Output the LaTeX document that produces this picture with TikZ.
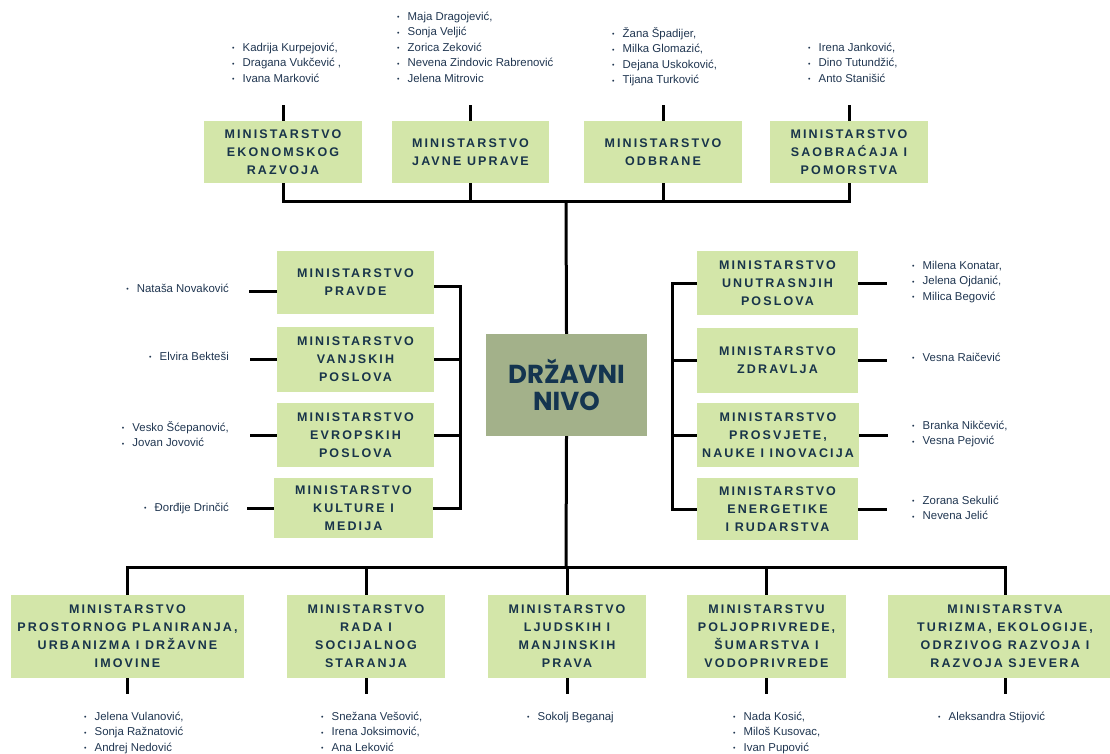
\documentclass[tikz,border=0pt]{standalone}
\usepackage{fontspec}
\setmainfont{Liberation Sans}
\newfontfamily\boxfont[LetterSpace=17]{Liberation Sans}
\newfontfamily\nivofont{Poppins}
\definecolor{boxgreen}{HTML}{D3E6A9}
\definecolor{nivogreen}{HTML}{A3B18A}
\definecolor{navy}{HTML}{18344A}
\definecolor{nivotext}{HTML}{143550}
\definecolor{namecol}{HTML}{1F3550}
\newcommand\osoba[1]{\rule{0pt}{9pt}\makebox[10.5pt][l]{\fontsize{7}{7}\selectfont\raisebox{0.5pt}{•}}#1}
\tikzset{
  ministry/.style={fill=boxgreen, text=navy, font=\boxfont\bfseries\fontsize{12.5}{18}\selectfont, align=center, inner sep=0pt},
  people/.style={text=namecol, font=\fontsize{11.4}{15.5}\selectfont, align=left, inner sep=0pt},
  veza/.style={line width=3pt}
}
\begin{document}
\begin{tikzpicture}[x=1pt,y=-1pt]
    \useasboundingbox (0,0) rectangle (1110,754);
    % centre
    \node[fill=nivogreen, minimum width=161pt, minimum height=102pt, inner sep=0pt, text=nivotext, font=\nivofont\bfseries\fontsize{26}{27}\selectfont, align=center](nivo) at (566.5,385){DRŽAVNI\\NIVO};
    \coordinate(gore) at (566,201);
    \coordinate(dole) at (566,567);
    % top row
    \node[ministry, minimum width=158pt, minimum height=62pt](ekon) at (283,152){MINISTARSTVO\\EKONOMSKOG\\RAZVOJA};
    \node[ministry, minimum width=157pt, minimum height=62pt](javna) at (470.5,152){MINISTARSTVO\\JAVNE UPRAVE};
    \node[ministry, minimum width=158pt, minimum height=62pt](odbr) at (663,152){MINISTARSTVO\\ODBRANE};
    \node[ministry, minimum width=158pt, minimum height=62pt](saob) at (849,152){MINISTARSTVO\\SAOBRAĆAJA I\\POMORSTVA};
    \draw[veza](ekon.south)|-(gore)-|(saob.south);
    \draw[veza](javna.south)--(javna.south|-gore);
    \draw[veza](odbr.south)--(odbr.south|-gore);
    \draw[veza](gore)--(nivo.north);
    \foreach \m in {ekon,javna,odbr,saob}
        \draw[veza](\m.north)--++(0,-16);
    \node[people, anchor=north west](lEkon) at (232,42){\osoba{Kadrija Kurpejović,}\\\osoba{Dragana Vukčević ,}\\\osoba{Ivana Marković}};
    \node[people, anchor=north west](lJavna) at (397,11){\osoba{Maja Dragojević,}\\\osoba{Sonja Veljić}\\\osoba{Zorica Zeković}\\\osoba{Nevena Zindovic Rabrenović}\\\osoba{Jelena Mitrovic}};
    \node[people, anchor=north west](lOdbr) at (612,27){\osoba{Žana Špadijer,}\\\osoba{Milka Glomazić,}\\\osoba{Dejana Uskoković,}\\\osoba{Tijana Turković}};
    \node[people, anchor=north west](lSaob) at (808,42){\osoba{Irena Janković,}\\\osoba{Dino Tutundžić,}\\\osoba{Anto Stanišić}};
    % left column
    \node[ministry, minimum width=157pt, minimum height=63pt](pravde) at (355.5,282.5){MINISTARSTVO\\PRAVDE};
    \node[ministry, minimum width=157pt, minimum height=65pt](vanj) at (355.5,359.5){MINISTARSTVO\\VANJSKIH\\POSLOVA};
    \node[ministry, minimum width=157pt, minimum height=64pt](evro) at (355.5,435){MINISTARSTVO\\EVROPSKIH\\POSLOVA};
    \node[ministry, minimum width=159pt, minimum height=60pt](kult) at (353.5,508){MINISTARSTVO\\KULTURE I\\MEDIJA};
    \draw[veza]([yshift=-4pt]pravde.east)-|(460,0|-kult.east)--(kult.east);
    \draw[veza](vanj.east)--++(26,0);
    \draw[veza](evro.east)--++(26,0);
    \draw[veza]([yshift=-9pt]pravde.west)--++(-28,0);
    \foreach \m in {vanj,evro,kult}
        \draw[veza](\m.west)--++(-27,0);
    \node[people, anchor=north east](lPravde) at (229,283){\osoba{Nataša Novaković}};
    \node[people, anchor=north east](lVanj) at (229,351){\osoba{Elvira Bekteši}};
    \node[people, anchor=north east](lEvro) at (229,421){\osoba{Vesko Šćepanović,}\\\osoba{Jovan Jovović}};
    \node[people, anchor=north east](lKult) at (229,502){\osoba{Đorđije Drinčić}};
    % right column
    \node[ministry, minimum width=161pt, minimum height=64pt](unut) at (777.5,283){MINISTARSTVO\\UNUTRASNJIH\\POSLOVA};
    \node[ministry, minimum width=161pt, minimum height=65pt](zdr) at (777.5,360.5){MINISTARSTVO\\ZDRAVLJA};
    \node[ministry, minimum width=162pt, minimum height=64pt](prosv) at (778,435){MINISTARSTVO\\PROSVJETE,\\NAUKE I INOVACIJA};
    \node[ministry, minimum width=161pt, minimum height=62pt](energ) at (777.5,509){MINISTARSTVO\\ENERGETIKE\\I RUDARSTVA};
    \draw[veza](unut.west)-|(672,0|-energ.west)--(energ.west);
    \draw[veza](zdr.west)--++(-25,0);
    \draw[veza](prosv.west)--++(-25,0);
    \foreach \m in {unut,zdr,prosv,energ}
        \draw[veza](\m.east)--++(29,0);
    \node[people, anchor=north west](lUnut) at (912,260){\osoba{Milena Konatar,}\\\osoba{Jelena Ojdanić,}\\\osoba{Milica Begović}};
    \node[people, anchor=north west](lZdr) at (912,352){\osoba{Vesna Raičević}};
    \node[people, anchor=north west](lProsv) at (912,420){\osoba{Branka Nikčević,}\\\osoba{Vesna Pejović}};
    \node[people, anchor=north west](lEnerg) at (912,495){\osoba{Zorana Sekulić}\\\osoba{Nevena Jelić}};
    % bottom row
    \node[ministry, minimum width=233pt, minimum height=83pt](prost) at (127.5,636.5){MINISTARSTVO\\PROSTORNOG PLANIRANJA,\\URBANIZMA I DRŽAVNE\\IMOVINE};
    \node[ministry, minimum width=158pt, minimum height=83pt](rada) at (366,636.5){MINISTARSTVO\\RADA I\\SOCIJALNOG\\STARANJA};
    \node[ministry, minimum width=158pt, minimum height=83pt](ljud) at (567,636.5){MINISTARSTVO\\LJUDSKIH I\\MANJINSKIH\\PRAVA};
    \node[ministry, minimum width=159pt, minimum height=83pt](polj) at (766.5,636.5){MINISTARSTVU\\POLJOPRIVREDE,\\ŠUMARSTVA I\\VODOPRIVREDE};
    \node[ministry, minimum width=234pt, minimum height=83pt](turiz) at (1005,636.5){MINISTARSTVA\\TURIZMA, EKOLOGIJE,\\ODRZIVOG RAZVOJA I\\RAZVOJA SJEVERA};
    \draw[veza](nivo.south)--(dole);
    \draw[veza](prost.north)|-(dole)-|(turiz.north);
    \foreach \m in {rada,ljud,polj}
        \draw[veza](\m.north)--(\m.north|-dole);
    \foreach \m in {prost,rada,ljud,polj,turiz}
        \draw[veza](\m.south)--++(0,16);
    \node[people, anchor=north west](lProst) at (84,711){\osoba{Jelena Vulanović,}\\\osoba{Sonja Ražnatović}\\\osoba{Andrej Nedović}};
    \node[people, anchor=north west](lRada) at (321,711){\osoba{Snežana Vešović,}\\\osoba{Irena Joksimović,}\\\osoba{Ana Leković}};
    \node[people, anchor=north west](lLjud) at (527,711){\osoba{Sokolj Beganaj}};
    \node[people, anchor=north west](lPolj) at (733,711){\osoba{Nada Kosić,}\\\osoba{Miloš Kusovac,}\\\osoba{Ivan Pupović}};
    \node[people, anchor=north west](lTuriz) at (938,711){\osoba{Aleksandra Stijović}};
\end{tikzpicture}
\end{document}
